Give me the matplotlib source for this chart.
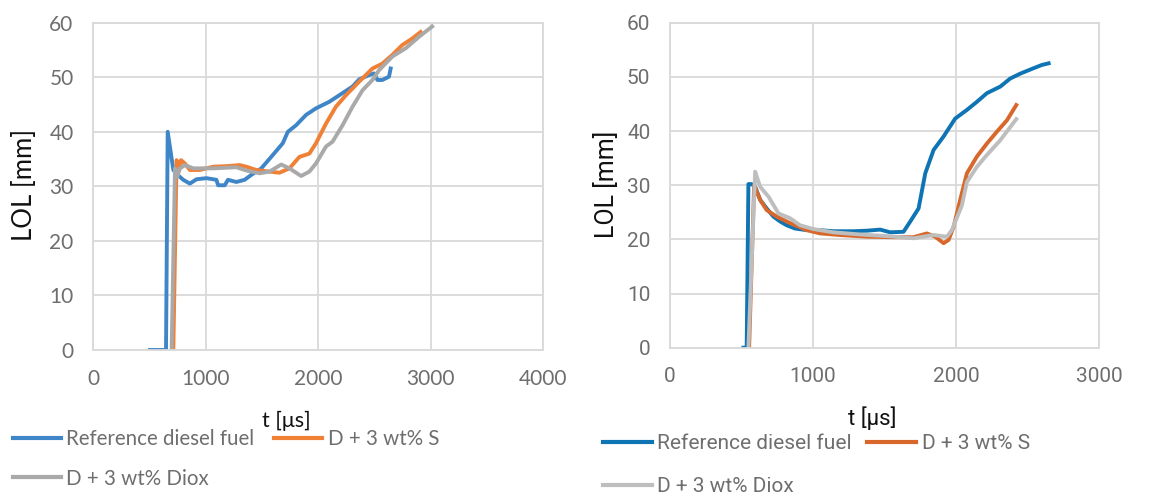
import numpy as np
import matplotlib.pyplot as plt
from matplotlib.lines import Line2D

# ---------------- data: left panel ----------------
L_ref_t = [507, 649, 664, 714, 758, 802, 861, 920, 1009, 1097, 1112, 1171, 1200, 1274, 1348,
           1407, 1496, 1584, 1687, 1732, 1805, 1894, 1982, 2100, 2189, 2307, 2366, 2454, 2499,
           2528, 2572, 2631, 2646]
L_ref_y = [0, 0, 40, 33, 32, 31.2, 30.5, 31.3, 31.5, 31.2, 30.2, 30.2, 31.2, 30.8, 31.2,
           32.1, 33.3, 35.4, 37.9, 40, 41.2, 43.1, 44.3, 45.5, 46.7, 48.3, 49.6, 50.4, 50.7,
           49.5, 49.5, 50.1, 51.6]

L_s_t = [714, 743, 764, 782, 817, 861, 950, 1068, 1186, 1304, 1363, 1451, 1569, 1658, 1746,
         1835, 1923, 1982, 2071, 2159, 2248, 2366, 2484, 2572, 2661, 2749, 2838, 2912]
L_s_y = [0, 34.8, 33, 34.8, 34.2, 33, 33, 33.6, 33.7, 33.9, 33.6, 33, 32.7, 32.5, 33.3,
         35.4, 36, 37.9, 41.5, 44.6, 46.7, 49.2, 51.6, 52.5, 54.1, 55.9, 57.1, 58.3]

L_d_t = [699, 729, 749, 773, 817, 891, 1068, 1274, 1363, 1481, 1569, 1673, 1746, 1850, 1923,
         1982, 2071, 2130, 2218, 2307, 2395, 2484, 2543, 2661, 2779, 2897, 3015]
L_d_y = [0, 33.3, 31.8, 33.3, 33.9, 33.3, 33.3, 33.5, 32.9, 32.4, 32.7, 34, 33.3, 31.9, 32.7,
         34.2, 37.3, 38.2, 41.2, 44.6, 47.6, 49.5, 51.3, 53.8, 55.3, 57.4, 59.3]

# ---------------- data: right panel ----------------
R_ref_t = [515, 538, 550, 573, 597, 632, 678, 725, 772, 818, 876, 958, 1051, 1145, 1284, 1378,
           1471, 1541, 1634, 1681, 1739, 1786, 1844, 1914, 1995, 2077, 2147, 2217, 2310, 2380,
           2450, 2543, 2601, 2648]
R_ref_y = [0, 0, 30.2, 30.2, 29.7, 27.3, 25.7, 24.2, 23.3, 22.6, 22, 21.7, 21.7, 21.5, 21.5, 21.6,
           21.8, 21.3, 21.4, 23.3, 25.7, 32.2, 36.5, 39, 42.3, 43.9, 45.4, 47, 48.2, 49.7,
           50.6, 51.6, 52.2, 52.5]

R_s_t = [555, 590, 632, 678, 748, 841, 958, 1051, 1191, 1378, 1564, 1704, 1797, 1855, 1914,
         1949, 1984, 2030, 2077, 2147, 2217, 2287, 2357, 2422]
R_s_y = [0, 30, 27.3, 25.4, 24.2, 23, 21.7, 21.1, 20.8, 20.5, 20.4, 20.4, 21.1, 20.5, 19.3,
         19.9, 22.3, 27.3, 32.2, 35.3, 37.7, 39.9, 42, 44.8]

R_d_t = [550, 597, 632, 690, 760, 841, 911, 1005, 1145, 1331, 1517, 1704, 1844, 1937, 1972,
         2042, 2077, 2147, 2217, 2310, 2422]
R_d_y = [0, 32.5, 29.7, 27.9, 24.8, 23.9, 22.6, 21.9, 21.3, 20.9, 20.6, 20.2, 20.8, 20.5, 21.7,
         26.3, 30.6, 33.4, 35.6, 38.3, 42.2]

labels = ["Reference diesel fuel", "D + 3 wt% S", "D + 3 wt% Diox"]
left_colors = ["#3F86C8", "#EF8036", "#A9A9A9"]
right_colors = ["#0E74B3", "#D8672B", "#BEBEBE"]

W, H = 1156, 497
fig = plt.figure(figsize=(W / 100, H / 100), dpi=100)

grid_c = "#D9D9D9"
tick_c = "#6E6E6E"


def style_axes(ax, xmax, xstep, font):
    ax.set_xlim(0, xmax)
    ax.set_ylim(0, 60)
    ax.set_xticks(np.arange(0, xmax + 1, xstep))
    ax.set_yticks(np.arange(0, 61, 10))
    ax.grid(True, color=grid_c, lw=1.3)
    ax.set_axisbelow(True)
    for s in ax.spines.values():
        s.set_color(grid_c)
        s.set_linewidth(1.3)
    ax.tick_params(length=0, labelsize=15, labelcolor=tick_c)
    ax.tick_params(axis="y", pad=14)
    ax.tick_params(axis="x", pad=14)
    for t in ax.get_xticklabels() + ax.get_yticklabels():
        t.set_family(font)


# left panel
axL = fig.add_axes([93 / W, 1 - 350 / H, 450 / W, 327.3 / H])
style_axes(axL, 4000, 1000, "Lato")
for t, y, c in zip([L_ref_t, L_s_t, L_d_t], [L_ref_y, L_s_y, L_d_y], left_colors):
    axL.plot(t, y, color=c, lw=2.8, solid_joinstyle="round")
fig.text(25 / W, 1 - 185 / H, "LOL [mm]", fontsize=18.5, family="Lato", color="#111111",
         rotation=90, ha="center", va="center")
fig.text(286 / W, 1 - 421 / H, "t [μs]", fontsize=15.5, family="Lato", color="#111111",
         ha="center", va="center")

# right panel
axR = fig.add_axes([669.7 / W, 1 - 347.7 / H, 429.3 / W, 325 / H])
style_axes(axR, 3000, 1000, "Roboto")
for t, y, c in zip([R_ref_t, R_s_t, R_d_t], [R_ref_y, R_s_y, R_d_y], right_colors):
    axR.plot(t, y, color=c, lw=2.8, solid_joinstyle="round")
fig.text(607 / W, 1 - 184 / H, "LOL [mm]", fontsize=18, family="Roboto", color="#111111",
         rotation=90, ha="center", va="center")
fig.text(872 / W, 1 - 418 / H, "t [μs]", fontsize=16, family="Roboto", color="#111111",
         ha="center", va="center")


def add_legend(colors, x0, y_top, font, size, rowgap, colgap):
    # column-major fill: ref + diox in the first column, S in the second
    order = [0, 2, 1]
    handles = [Line2D([], [], color=colors[i], lw=3) for i in order]
    leg = fig.legend(handles, [labels[i] for i in order], ncol=2, loc="upper left",
                     bbox_to_anchor=(x0 / W, 1 - y_top / H), frameon=False,
                     prop={"family": font, "size": size}, handlelength=2.35,
                     handletextpad=0.25, columnspacing=colgap, labelspacing=rowgap,
                     borderpad=0, borderaxespad=0)
    for t in leg.get_texts():
        t.set_color(tick_c)


add_legend(left_colors, 13, 429, "Lato", 14.8, 0.95, 0.95)
add_legend(right_colors, 603, 434, "Roboto", 15, 1.15, 0.75)

fig.savefig("out.png", dpi=100)
